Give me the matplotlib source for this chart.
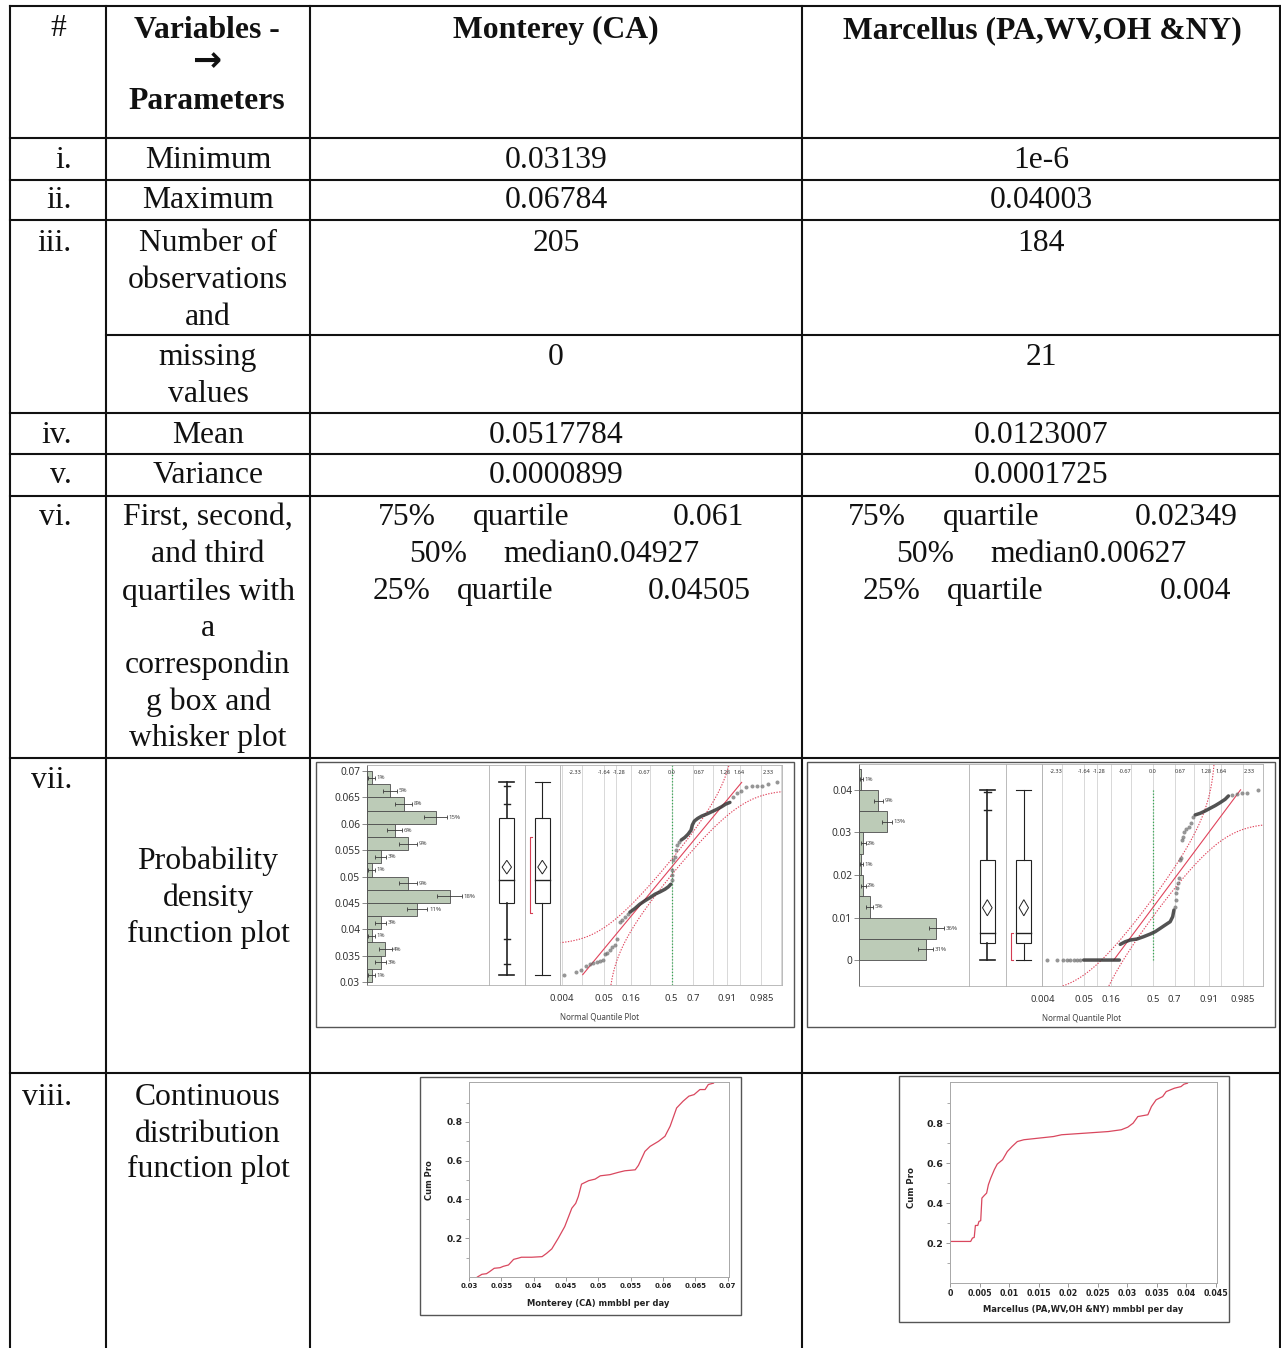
import numpy as np
import matplotlib
matplotlib.use('Agg')
from matplotlib import pyplot as plt
from matplotlib.patches import Rectangle, Polygon
from matplotlib.transforms import blended_transform_factory
from statistics import NormalDist

W, H = 1281, 1348
SERIF = 'Liberation Serif'
TXT = 22.8
plt.rcParams['font.family'] = ['Noto Sans', 'DejaVu Sans']

# ---------------- table text ----------------
row_numbers = ['i.', 'ii.', 'iii.', 'iv.', 'v.', 'vi.', 'vii.', 'viii.']
param_text = [['Minimum'], ['Maximum'], ['Number of', 'observations', 'and'], ['missing', 'values'],
              ['Mean'], ['Variance'],
              ['First, second,', 'and third', 'quartiles with', 'a', 'correspondin', 'g box and', 'whisker plot'],
              ['Probability', 'density', 'function plot'],
              ['Continuous', 'distribution', 'function plot']]
monterey_values = ['0.03139', '0.06784', '205', '0', '0.0517784', '0.0000899']
marcellus_values = ['1e-6', '0.04003', '184', '21', '0.0123007', '0.0001725']
quartile_words = [['75%', 'quartile'], ['50%', 'median'], ['25%', 'quartile']]
mont_quartile_text = ['0.061', '0.04927', '0.04505']
marc_quartile_text = ['0.02349', '0.00627', '0.004']

# ---------------- Monterey data ----------------
mont_n = 205
mont_min, mont_max = 0.03139, 0.06784
mont_q1, mont_med, mont_q3 = 0.04505, 0.04927, 0.061
mont_mean, mont_var = 0.0517784, 0.0000899
mont_bin_lo, mont_bin_w = 0.03, 0.0025
mont_hist_pct = [1, 3, 4, 1, 3, 11, 18, 9, 1, 3, 9, 6, 15, 8, 5, 1]
mont_qtl_ticks = [0.0334, 0.0382, 0.0637, 0.0672]
mont_short_half = [0.0431, 0.0575]
mont_qq_dot_z = [-2.60, -2.32, -2.18, -2.06, -1.98, -1.90, -1.81, -1.73, -1.67, -1.61, -1.56, -1.49,
                 -1.44, -1.37, -1.32, -1.24, -1.19, -1.13, -1.06, 0.00, 0.00, 0.02, 0.04, 0.08, 0.10,
                 0.13, 0.18, 1.48, 1.57, 1.69, 1.81, 1.94, 2.06, 2.18, 2.34, 2.56]
mont_qq_dot_v = [0.03139, 0.03184, 0.03222, 0.03297, 0.03335, 0.03367, 0.03386, 0.03399, 0.03424,
                 0.03525, 0.03551, 0.03614, 0.03665, 0.03709, 0.03823, 0.04139, 0.04184, 0.04234,
                 0.04285, 0.04930, 0.05025, 0.05120, 0.05310, 0.05373, 0.05500, 0.05595, 0.05658,
                 0.06500, 0.06580, 0.06620, 0.06690, 0.06712, 0.06718, 0.06725, 0.06760, 0.06784]
mont_qq_run_z = [-1.01, -0.89, -0.77, -0.65, -0.52, -0.40, -0.28, -0.16, -0.08, -0.02, np.nan,
                 0.23, 0.32, 0.40, 0.47, 0.50, 0.55, 0.63, 0.73, 0.85, 0.97, 1.09, 1.21, 1.31, 1.41]
mont_qq_run_v = [0.04323, 0.04392, 0.04475, 0.04538, 0.04601, 0.04665, 0.04709, 0.04759, 0.04804,
                 0.04854, np.nan, 0.05690, 0.05741, 0.05804, 0.05880, 0.05975, 0.06051, 0.06101,
                 0.06146, 0.06184, 0.06228, 0.06272, 0.06323, 0.06373, 0.06405]
mont_cdf_x = [0.0313, 0.0320, 0.0327, 0.0332, 0.0339, 0.0348, 0.0353, 0.0361, 0.0369, 0.0376, 0.0381,
              0.0397, 0.0413, 0.0420, 0.0428, 0.0438, 0.0448, 0.0459, 0.0465, 0.0469, 0.0474, 0.0485,
              0.0495, 0.0503, 0.0518, 0.0531, 0.0541, 0.0557, 0.0562, 0.0572, 0.0580, 0.0593, 0.0603,
              0.0611, 0.0621, 0.0631, 0.0640, 0.0648, 0.0657, 0.0665, 0.0670, 0.0678]
mont_cdf_y = [0.0, 0.014, 0.017, 0.028, 0.045, 0.048, 0.055, 0.062, 0.091, 0.097, 0.102, 0.102, 0.105,
              0.122, 0.145, 0.200, 0.260, 0.355, 0.380, 0.415, 0.479, 0.497, 0.505, 0.522, 0.528, 0.540,
              0.548, 0.553, 0.576, 0.648, 0.674, 0.700, 0.726, 0.778, 0.872, 0.907, 0.933, 0.941, 0.967,
              0.967, 0.993, 1.0]

# ---------------- Marcellus data ----------------
marc_n = 184
marc_min, marc_max = 0.000001, 0.04003
marc_q1, marc_med, marc_q3 = 0.004, 0.00627, 0.02349
marc_mean, marc_var = 0.0123007, 0.0001725
marc_bin_lo, marc_bin_w = 0.0, 0.005
marc_hist_pct = [31, 36, 5, 2, 1, 2, 13, 9, 1]
marc_qtl_ticks = [0.0352, 0.0395]
marc_short_half = [0.0, 0.0064]
marc_qq_dot_z = [-2.53, -2.30, -2.16, -2.06, -1.98, -1.90, -1.82, -1.74, 0.54, 0.55, 0.56, 0.58, 0.60,
                 0.62, 0.66, 0.68, 0.70, 0.72, 0.75, 0.80, 0.86, 0.91, 0.98, 1.90, 2.02, 2.14, 2.26, 2.52]
marc_qq_dot_v = [0.0, 0.0, 0.0, 0.0, 0.0, 0.0, 0.0, 0.0, 0.01255, 0.01412, 0.01569, 0.01686, 0.01804,
                 0.01922, 0.02353, 0.02392, 0.02824, 0.02902, 0.03020, 0.03075, 0.03137, 0.03216,
                 0.03373, 0.03890, 0.03898, 0.03922, 0.03937, 0.04003]
marc_qq_run_z = [-1.66, -0.80, np.nan, -0.78, -0.66, -0.54, -0.38, -0.22, -0.06, 0.06, 0.18, 0.30, 0.42,
                 0.48, 0.51, np.nan, 1.02, 1.14, 1.26, 1.38, 1.50, 1.62, 1.74, 1.82]
marc_qq_run_v = [0.0, 0.0, np.nan, 0.00369, 0.00431, 0.00471, 0.00494, 0.00549, 0.00612, 0.00667,
                 0.00745, 0.00824, 0.00902, 0.01020, 0.01176, np.nan, 0.03412, 0.03451, 0.03506,
                 0.03569, 0.03631, 0.03702, 0.03780, 0.03859]
marc_cdf_x = [0.0002, 0.0035, 0.0038, 0.0041, 0.0043, 0.0047, 0.0049, 0.0052, 0.0054, 0.0058, 0.0062,
              0.0065, 0.0069, 0.0075, 0.0080, 0.0089, 0.0097, 0.0105, 0.0114, 0.0125, 0.0150, 0.0175,
              0.0189, 0.0229, 0.0268, 0.0290, 0.0301, 0.0310, 0.0318, 0.0335, 0.0341, 0.0349, 0.0360,
              0.0366, 0.0380, 0.0391, 0.0396, 0.0402]
marc_cdf_y = [0.208, 0.208, 0.225, 0.228, 0.288, 0.288, 0.308, 0.312, 0.425, 0.438, 0.450, 0.492, 0.525,
              0.567, 0.595, 0.617, 0.658, 0.683, 0.708, 0.717, 0.725, 0.733, 0.742, 0.750, 0.758, 0.767,
              0.780, 0.800, 0.833, 0.842, 0.883, 0.917, 0.933, 0.958, 0.975, 0.983, 0.995, 1.0]

# normal quantile plot axis
qq_grid_p = [0.004, 0.015, 0.05, 0.09, 0.16, 0.3, 0.5, 0.7, 0.84, 0.91, 0.95, 0.985, 0.996]
qq_top_labels = ['-2.33', '-1.64', '-1.28', '-0.67', '0.0', '0.67', '1.28', '1.64', '2.33']
qq_bottom_labels = ['0.004', '0.05', '0.16', '0.5', '0.7', '0.91', '0.985']

mont_hist_ticks = [0.03, 0.035, 0.04, 0.045, 0.05, 0.055, 0.06, 0.065, 0.07]
marc_hist_ticks = [0.0, 0.01, 0.02, 0.03, 0.04]
mont_cdf_ticks = [0.03, 0.035, 0.04, 0.045, 0.05, 0.055, 0.06, 0.065, 0.07]
marc_cdf_ticks = [0.0, 0.005, 0.01, 0.015, 0.02, 0.025, 0.03, 0.035, 0.04, 0.045]

mont = dict(n=mont_n, min=mont_min, max=mont_max, q1=mont_q1, med=mont_med, q3=mont_q3,
            mean=mont_mean, var=mont_var, lo=mont_bin_lo, w=mont_bin_w, pct=mont_hist_pct,
            qtl=mont_qtl_ticks, half=mont_short_half, dz=mont_qq_dot_z, dv=mont_qq_dot_v,
            rz=mont_qq_run_z, rv=mont_qq_run_v)
marc = dict(n=marc_n, min=marc_min, max=marc_max, q1=marc_q1, med=marc_med, q3=marc_q3,
            mean=marc_mean, var=marc_var, lo=marc_bin_lo, w=marc_bin_w, pct=marc_hist_pct,
            qtl=marc_qtl_ticks, half=marc_short_half, dz=marc_qq_dot_z, dv=marc_qq_dot_v,
            rz=marc_qq_run_z, rv=marc_qq_run_v)

nd = NormalDist()
fig = plt.figure(figsize=(W / 100, H / 100), dpi=100)
base = fig.add_axes([0, 0, 1, 1])
base.set_xlim(0, W)
base.set_ylim(H, 0)
base.axis('off')


def px_axes(x0, y0, x1, y1):
    return fig.add_axes([x0 / W, 1 - y1 / H, (x1 - x0) / W, (y1 - y0) / H])


def light_spines(ax, color='#b0b0b0', lw=0.6):
    for s in ax.spines.values():
        s.set_color(color)
        s.set_linewidth(lw)


def stext(x, y, s, ha='center', bold=False, size=TXT):
    base.text(x, y, s, ha=ha, va='baseline', fontsize=size, family=SERIF,
              fontweight='bold' if bold else 'normal', color='#111')


# ---------------- table grid ----------------
for x in [9.5, 106, 310, 802, 1280]:
    base.plot([x, x], [6, H], color='#111', lw=1.5)
for y, xs in [(6, 9.5), (137.5, 9.5), (179.5, 9.5), (220, 9.5), (335, 106), (413, 9.5),
              (454, 9.5), (495.5, 9.5), (757.5, 9.5), (1073, 9.5)]:
    base.plot([xs, 1280], [y, y], color='#111', lw=1.5)

# header
stext(58, 36, '#')
stext(207, 38, 'Variables -', bold=True)
base.text(207, 61, '\u2192', ha='center', va='center', fontsize=25, fontweight='bold',
          family=['DejaVu Sans'], color='#111')
stext(207, 109, 'Parameters', bold=True)
stext(556, 38, 'Monterey (CA)', bold=True)
stext(1042, 38, 'Marcellus (PA,WV,OH &NY)', bold=True)

number_base = [168, 208.5, 251, 442.7, 483, 525, 788, 1105]
for s, y in zip(row_numbers, number_base):
    stext(72, y, s, ha='right')

param_base = [[168], [208.5], [251, 288, 325], [365, 402], [442.7], [483],
              [525, 562.5, 600, 636.5, 673, 710, 746], [869, 906, 942], [1105, 1141.5, 1177]]
for lines, ys in zip(param_text, param_base):
    for s, y in zip(lines, ys):
        stext(208, y, s)

value_base = [168, 208.5, 251, 365, 442.7, 483]
for a, b, y in zip(monterey_values, marcellus_values, value_base):
    stext(556, y, a)
    stext(1041, y, b)

q_base = [525, 562.5, 599]
mont_q_x = [[378, 473, 673], [409, 503, None], [373, 457, 648]]
marc_q_x = [[848, 943, 1135], [896, 990, None], [863, 947, 1160]]
for i, y in enumerate(q_base):
    for qx, vals in [(mont_q_x[i], mont_quartile_text), (marc_q_x[i], marc_quartile_text)]:
        stext(qx[0], y, quartile_words[i][0], ha='left')
        if qx[2] is None:
            stext(qx[1], y, quartile_words[i][1] + vals[i], ha='left')
        else:
            stext(qx[1], y, quartile_words[i][1], ha='left')
            stext(qx[2], y, vals[i], ha='left')


# ---------------- PDF panels ----------------
def draw_hist(ax, d, ylim, xmax, ticks):
    p = np.array(d['pct']) / 100
    lows = d['lo'] + d['w'] * np.arange(len(p))
    mids = lows + d['w'] / 2
    ax.barh(lows, p, height=d['w'], align='edge', color='#bccbb7', edgecolor='#4d4d4d', linewidth=0.6)
    se = np.sqrt(p * (1 - p) / d['n'])
    ax.errorbar(p, mids, xerr=se, fmt='none', ecolor='#3a3a3a', elinewidth=0.6, capsize=1.3, capthick=0.6)
    for pi, si, yi, lab in zip(p, se, mids, d['pct']):
        ax.annotate(f'{lab}%', (pi + si, yi), xytext=(1.2, 0), textcoords='offset points',
                    fontsize=4.4, va='center', color='#4a4a4a')
    ax.set_ylim(ylim)
    ax.set_xlim(0, xmax)
    ax.set_yticks(ticks)
    ax.set_yticklabels([f'{t:g}' for t in ticks])
    ax.set_xticks([])
    ax.tick_params(axis='y', length=3.5, width=0.6, color='#777', labelsize=7.3, labelcolor='#333', pad=1.5)
    light_spines(ax)
    ax.spines['left'].set_color('#555')


def draw_box(ax, d, ylim, thick, with_ticks):
    ax.set_xlim(0, 1)
    ax.set_ylim(ylim)
    x0, x1 = 0.29, 0.70
    xc = (x0 + x1) / 2
    ax.add_patch(Rectangle((x0, d['q1']), x1 - x0, d['q3'] - d['q1'], fill=False, ec='#222', lw=0.8))
    ax.plot([x0, x1], [d['med'], d['med']], color='#222', lw=1.0)
    ax.plot([xc, xc], [d['min'], d['q1']], color='#222', lw=thick)
    ax.plot([xc, xc], [d['q3'], d['max']], color='#222', lw=thick)
    ax.plot([x0, x1], [d['min'], d['min']], color='#222', lw=thick)
    ax.plot([x0, x1], [d['max'], d['max']], color='#222', lw=thick)
    ci = 1.96 * np.sqrt(d['var'] / d['n'])
    m = d['mean']
    ax.add_patch(Polygon([(xc - 0.13, m), (xc, m + ci), (xc + 0.13, m), (xc, m - ci)], closed=True,
                         fill=False, ec='#222', lw=0.7))
    if with_ticks:
        for t in d['qtl']:
            ax.plot([xc - 0.09, xc + 0.09], [t, t], color='#222', lw=1.0)
    else:
        lo, hi = d['half']
        ax.plot([0.19, 0.13, 0.13, 0.19], [lo, lo, hi, hi], color='#d43c52', lw=0.8)
    ax.set_xticks([])
    ax.set_yticks([])
    light_spines(ax)


def draw_qq(ax, d, ylim, xlim, green_span):
    for p in qq_grid_p:
        ax.axvline(nd.inv_cdf(p), color='#d2d2d2', lw=0.6, zorder=0)
    ax.plot([0, 0], green_span, ls=(0, (1, 1.5)), color='#36a852', lw=0.9)
    mu, sd = d['mean'], np.sqrt(d['var'])
    zl = [(d['min'] - mu) / sd, (d['max'] - mu) / sd]
    ax.plot(zl, [mu + sd * z for z in zl], color='#e0435b', lw=0.8)
    dks = 0.886 / np.sqrt(d['n'])
    vv = np.linspace(ylim[0], ylim[1], 300)
    pp = np.array([nd.cdf((v - mu) / sd) for v in vv])
    for sgn in (-1, 1):
        q = pp + sgn * dks
        ok = (q > 1e-4) & (q < 1 - 1e-4)
        ax.plot([nd.inv_cdf(x) for x in q[ok]], vv[ok], ls=(0, (1.2, 1.3)), color='#e0435b', lw=0.8)
    ax.plot(d['rz'], d['rv'], '-', color='#353535', lw=2.5, alpha=0.85, solid_capstyle='round')
    ax.plot(d['dz'], d['dv'], 'o', ms=2.9, mfc='#6a6a6a', mec='none', alpha=0.7)
    ax.set_xlim(xlim)
    ax.set_ylim(ylim)
    ax.set_xticks([])
    ax.set_yticks([])
    light_spines(ax)
    tr = blended_transform_factory(ax.transData, ax.transAxes)
    for lab in qq_top_labels:
        ax.text(float(lab), 0.965, lab, transform=tr, ha='center', va='center', fontsize=4, color='#333')
    for lab in qq_bottom_labels:
        ax.text(nd.inv_cdf(float(lab)), -0.063, lab, transform=tr, ha='center', va='center',
                fontsize=6.8, color='#333', clip_on=False)
    ax.text(0.0, -0.145, 'Normal Quantile Plot', transform=ax.transAxes, ha='left', va='center',
            fontsize=5.8, color='#444', clip_on=False)


panels = [
    dict(d=mont, frame=(316, 762, 794, 1027), top=765, bot=985,
         cols=[367, 489, 525, 560, 782], ylim=(0.02943, 0.07114), xmax=0.266,
         ticks=mont_hist_ticks, qx=(-2.70, 2.67), green=(0.02943, 0.07114)),
    dict(d=marc, frame=(807, 762, 1275, 1027), top=764, bot=986,
         cols=[859, 969, 1006, 1042, 1263], ylim=(-0.0061, 0.0461), xmax=0.512,
         ticks=marc_hist_ticks, qx=(-2.66, 2.65), green=(0.0, 0.04)),
]
for P in panels:
    fx0, fy0, fx1, fy1 = P['frame']
    base.add_patch(Rectangle((fx0, fy0), fx1 - fx0, fy1 - fy0, fill=False, ec='#555', lw=1.0))
    c = P['cols']
    draw_hist(px_axes(c[0], P['top'], c[1], P['bot']), P['d'], P['ylim'], P['xmax'], P['ticks'])
    draw_box(px_axes(c[1], P['top'], c[2], P['bot']), P['d'], P['ylim'], 1.2, True)
    draw_box(px_axes(c[2], P['top'], c[3], P['bot']), P['d'], P['ylim'], 0.8, False)
    draw_qq(px_axes(c[3], P['top'], c[4], P['bot']), P['d'], P['ylim'], P['qx'], P['green'])


# ---------------- CDF panels ----------------
BOLD_SANS = ['DejaVu Sans']


def draw_cdf(ax, x, y, xlim, ticks, xfs, yfs):
    ax.plot(x, y, color='#d9475e', lw=0.9)
    ax.set_xlim(xlim)
    ax.set_ylim(0, 1.006)
    ax.set_xticks(ticks)
    ax.set_xticklabels([f'{t:g}' for t in ticks], fontsize=xfs, fontweight='bold', color='#222',
                       family=BOLD_SANS)
    ax.set_yticks([0.2, 0.4, 0.6, 0.8])
    ax.set_yticklabels(['0.2', '0.4', '0.6', '0.8'], fontsize=yfs, fontweight='bold', color='#222',
                       family=BOLD_SANS)
    ax.set_yticks([0.1, 0.3, 0.5, 0.7, 0.9], minor=True)
    ax.tick_params(which='major', length=3, width=0.6, color='#888', pad=1.5)
    ax.tick_params(which='minor', length=2, width=0.5, color='#888')
    light_spines(ax, '#a8a8a8', 0.7)


base.add_patch(Rectangle((420, 1077), 321, 238, fill=False, ec='#555', lw=1.0))
draw_cdf(px_axes(469, 1082, 729, 1277), mont_cdf_x, mont_cdf_y, (0.03, 0.0702), mont_cdf_ticks, 5.0, 6.6)
base.text(430, 1180, 'Cum Pro', rotation=90, ha='center', va='center', fontsize=6.0, fontweight='bold',
          color='#222', family=BOLD_SANS)
base.text(598, 1303, 'Monterey (CA) mmbbl per day', ha='center', va='center', fontsize=6.0,
          fontweight='bold', color='#222', family=BOLD_SANS)

base.add_patch(Rectangle((899, 1076), 330, 246, fill=False, ec='#555', lw=1.0))
draw_cdf(px_axes(950, 1082, 1217, 1283), marc_cdf_x, marc_cdf_y, (0.0, 0.0452), marc_cdf_ticks, 5.7, 6.8)
base.text(911, 1187, 'Cum Pro', rotation=90, ha='center', va='center', fontsize=6.2, fontweight='bold',
          color='#222', family=BOLD_SANS)
base.text(1083, 1310, 'Marcellus (PA,WV,OH &NY) mmbbl per day', ha='center', va='center', fontsize=6.0,
          fontweight='bold', color='#222', family=BOLD_SANS)

fig.savefig('out.png', dpi=100)
